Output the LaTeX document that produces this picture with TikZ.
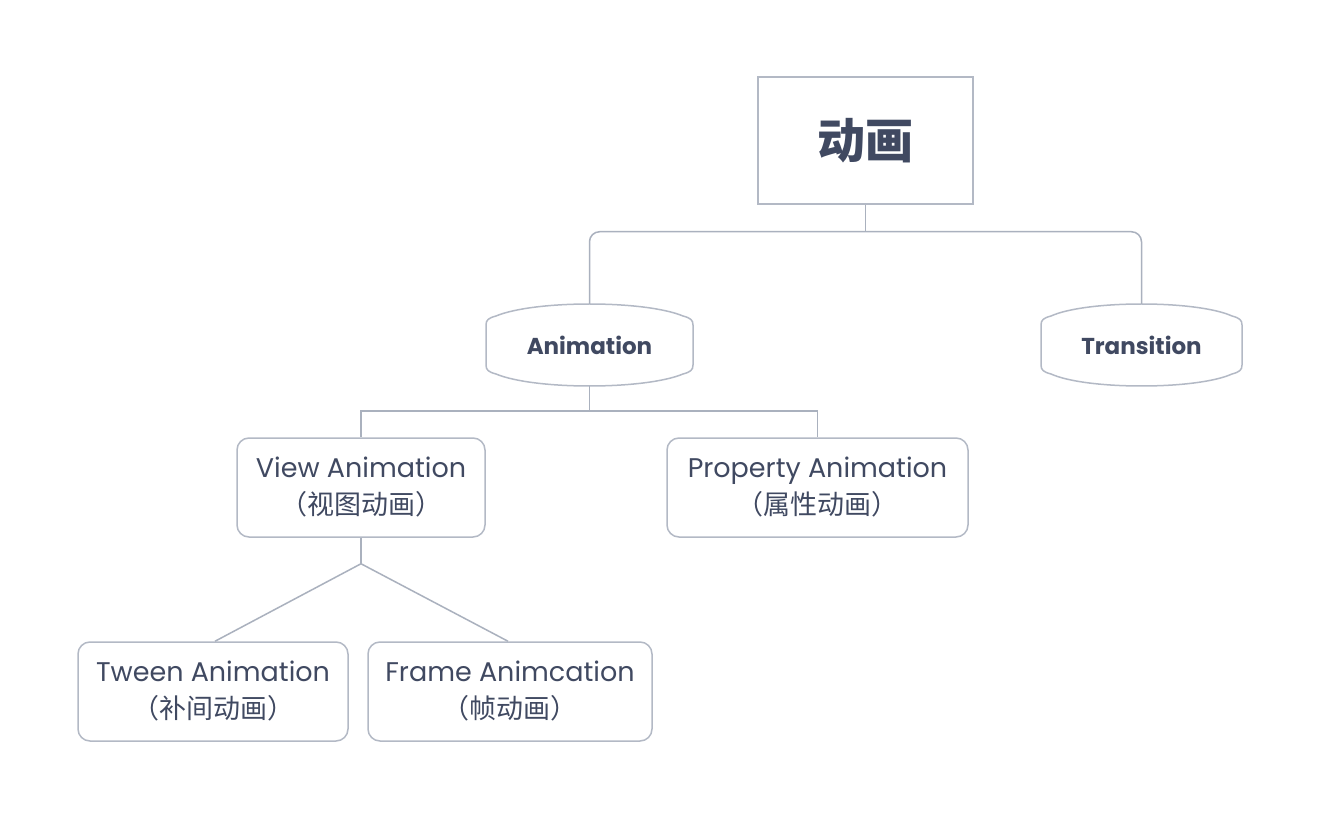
\documentclass[tikz,border=0pt]{standalone}
\usepackage{fontspec}
\setmainfont{Poppins}
\newfontfamily\cjk{Noto Sans CJK SC}
\usepackage{xcolor}
\usetikzlibrary{positioning,calc}

\definecolor{inkc}{HTML}{404961}
\definecolor{edgec}{HTML}{B3B9C5}
\definecolor{linkc}{HTML}{AAB1BE}

% outline of the capsule nodes (name, half width)
\newcommand\capsule[2]{%
  \draw[frame, shift={(#1.center)}] (-#2,20) -- (-#2,-20)
    .. controls (-#2,-25) and (-#2+2.5,-27) .. (-#2+10,-29)
    .. controls (-55,-45) and (55,-45) .. (#2-10,-29)
    .. controls (#2-2.5,-27) and (#2,-25) .. (#2,-20) -- (#2,20)
    .. controls (#2,25) and (#2-2.5,27) .. (#2-10,29)
    .. controls (55,45) and (-55,45) .. (-#2+10,29)
    .. controls (-#2+2.5,27) and (-#2,25) .. (-#2,20) -- cycle;}

\begin{document}
\begin{tikzpicture}[
    x=1pt, y=-1pt,
    frame/.style={draw=edgec, line width=1.5pt},
    rootbox/.style={rectangle, frame, minimum width=215pt, minimum height=127pt, text=inkc, font=\cjk\bfseries\fontsize{48}{52}\selectfont},
    capnode/.style={rectangle, minimum height=82pt, text=inkc, font=\bfseries\fontsize{23}{26}\selectfont},
    leaf/.style={rectangle, frame, rounded corners=12pt, minimum height=99pt, align=center, text=inkc, font=\fontsize{27}{37}\selectfont},
    link/.style={draw=linkc, line width=1.5pt}
]
    \useasboundingbox (0,0) rectangle (1318,818);
    \fill[white] (0,0) rectangle (1318,818);

    % Root
    \node[rootbox] (root) at (865.5,140.5) {动画};

    % Second level
    \node[capnode, minimum width=207pt] (anim) at (589.5,345) {Animation};
    \node[capnode, minimum width=201pt] (trans) at (1141.5,345) {Transition};
    \capsule{anim}{103.5}
    \capsule{trans}{100.5}

    % Third level
    \node[leaf, minimum width=248pt] (view) at (361,487.5) {View Animation\\{\cjk（视图动画）}};
    \node[leaf, minimum width=301pt] (prop) at (817.5,487.5) {Property Animation\\{\cjk（属性动画）}};

    % Fourth level
    \node[leaf, minimum width=270pt] (tween) at (213,691.5) {Tween Animation\\{\cjk（补间动画）}};
    \node[leaf, minimum width=284pt] (frame) at (510,691.5) {Frame Animcation\\{\cjk（帧动画）}};

    % Junctions
    \coordinate (j1) at ($(root.south)+(0,27)$);
    \coordinate (j2) at ($(anim.south)+(0,25)$);
    \coordinate (j3) at ($(view.south)+(0,26)$);

    % Links
    \draw[link] (root.south) -- (j1);
    \draw[link, rounded corners=10pt] (j1) -| (anim.north);
    \draw[link, rounded corners=10pt] (j1) -| (trans.north);
    \draw[link] (anim.south) -- (j2);
    \draw[link] (j2) -| (view.north);
    \draw[link] (j2) -| (prop.north);
    \draw[link] (view.south) -- (j3);
    \draw[link] (j3) -- ([xshift=2pt]tween.north);
    \draw[link] (j3) -- ([xshift=-2pt]frame.north);
\end{tikzpicture}
\end{document}
